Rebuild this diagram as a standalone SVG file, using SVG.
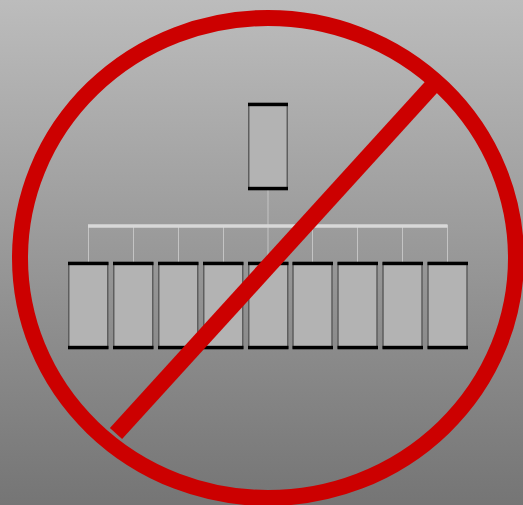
<svg xmlns="http://www.w3.org/2000/svg" width="523" height="505" viewBox="0 0 523 505">
<defs>
<linearGradient id="bg" x1="0" y1="0" x2="0" y2="1"><stop offset="0" stop-color="#bcbcbc"/><stop offset="1" stop-color="#757575"/></linearGradient>
<style>
.box{fill:#b3b3b3;stroke:#5e5e5e;stroke-width:1.5}
.cap{fill:#000}
.link{stroke:#c4c4c4;stroke-width:1;fill:none}
.bus{stroke:#d8d8d8;stroke-width:3.400;fill:none}
.no{stroke:#cc0000;fill:none}
</style>
</defs>
<rect id="background" width="523" height="505" fill="url(#bg)"/>
<g id="connectors">
<path class="link" d="M268 190V225M88.500 225V262M133.500 225V262M178.500 225V262M223.500 225V262M268 225V262M312.500 225V262M357.500 225V262M402.500 225V262M447.500 225V262"/>
<path class="bus" d="M88 226H447.500"/>
</g>
<g id="node-root"><rect class="box" x="248.750" y="104" width="38.500" height="85"/><rect class="cap" x="248" y="102.700" width="40" height="3.500"/><rect class="cap" x="248" y="186.800" width="40" height="3.500"/></g>
<g id="node-1"><rect class="box" x="68.750" y="263" width="39" height="85"/><rect class="cap" x="68" y="261.700" width="40.500" height="3.500"/><rect class="cap" x="68" y="345.800" width="40.500" height="3.500"/></g>
<g id="node-2"><rect class="box" x="113.750" y="263" width="39" height="85"/><rect class="cap" x="113" y="261.700" width="40.500" height="3.500"/><rect class="cap" x="113" y="345.800" width="40.500" height="3.500"/></g>
<g id="node-3"><rect class="box" x="158.750" y="263" width="39" height="85"/><rect class="cap" x="158" y="261.700" width="40.500" height="3.500"/><rect class="cap" x="158" y="345.800" width="40.500" height="3.500"/></g>
<g id="node-4"><rect class="box" x="203.750" y="263" width="39" height="85"/><rect class="cap" x="203" y="261.700" width="40.500" height="3.500"/><rect class="cap" x="203" y="345.800" width="40.500" height="3.500"/></g>
<g id="node-5"><rect class="box" x="248.750" y="263" width="39" height="85"/><rect class="cap" x="248" y="261.700" width="40.500" height="3.500"/><rect class="cap" x="248" y="345.800" width="40.500" height="3.500"/></g>
<g id="node-6"><rect class="box" x="293" y="263" width="39" height="85"/><rect class="cap" x="292.500" y="261.700" width="40.500" height="3.500"/><rect class="cap" x="292.500" y="345.800" width="40.500" height="3.500"/></g>
<g id="node-7"><rect class="box" x="338" y="263" width="39" height="85"/><rect class="cap" x="337.500" y="261.700" width="40.500" height="3.500"/><rect class="cap" x="337.500" y="345.800" width="40.500" height="3.500"/></g>
<g id="node-8"><rect class="box" x="383" y="263" width="39" height="85"/><rect class="cap" x="382.500" y="261.700" width="40.500" height="3.500"/><rect class="cap" x="382.500" y="345.800" width="40.500" height="3.500"/></g>
<g id="node-9"><rect class="box" x="428" y="263" width="39" height="85"/><rect class="cap" x="427.500" y="261.700" width="40.500" height="3.500"/><rect class="cap" x="427.500" y="345.800" width="40.500" height="3.500"/></g>
<g id="prohibition-sign">
<ellipse class="no" cx="268" cy="258" rx="248" ry="240" stroke-width="16"/>
<path class="no" d="M116 433.500L440 77.500" stroke-width="16.500"/>
</g>
</svg>
